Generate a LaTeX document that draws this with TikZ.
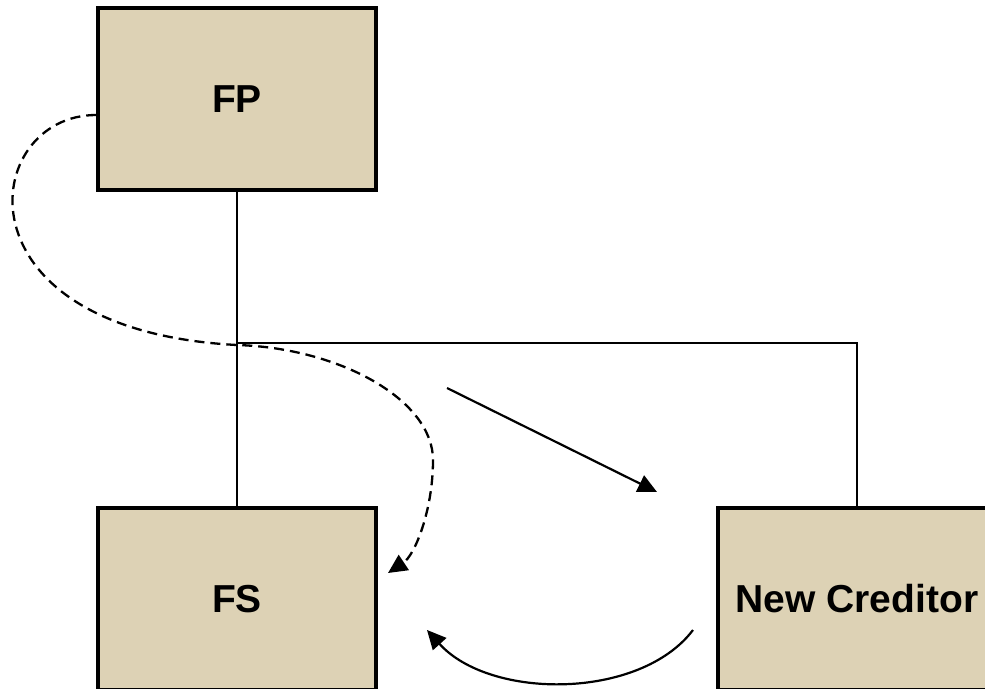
\documentclass[tikz,border=0pt]{standalone}
\usepackage{fontspec}
\setmainfont{Liberation Sans}
\usepackage{xcolor}
\usetikzlibrary{calc, positioning, arrows.meta}

\definecolor{boxtan}{RGB}{221,210,181}

\begin{document}
\begin{tikzpicture}[x=1pt, y=-1pt, >={Triangle[length=19pt,width=18pt]},
		party/.style={draw, line width=3.6pt, fill=boxtan, minimum width=278pt, minimum height=182pt,
			font=\fontsize{39}{39}\selectfont\bfseries, inner sep=0pt},
		link/.style={line width=2.2pt},
		flow/.style={line width=2.3pt, dash pattern=on 10pt off 6pt}]
	\useasboundingbox (0,0) rectangle (985,688);
	\fill[white] (0,0) rectangle (985,688);

	% the three parties
	\node[party] (FP) at (237,99) {FP};
	\node[party] (FS) at (237,599) {FS};
	\node[party] (NC) at (857,599) {New Creditor};

	% ownership lines
	\coordinate (jn) at (237,343);
	\draw[link] (FP.south) -- (FS.north);
	\draw[link] (jn) -| (NC.north);

	% dashed flow from FP down to FS
	\coordinate (fpout) at ([yshift=-16pt]FP.west);
	\coordinate (fsin) at (388,573);
	\draw[flow, ->] (fpout) .. controls (-20,115) and (-50,330) .. (237,345)
		.. controls (340,348) and (433,400) .. (433,460)
		.. controls (433,510) and (415,555) .. (fsin);

	% transfer to the new creditor and back
	\coordinate (ts) at (447,388);
	\coordinate (te) at (657,492);
	\draw[link, ->] (ts) -- (te);
	\coordinate (rs) at (693,630);
	\coordinate (re) at (427,630);
	\draw[link, ->] (rs) .. controls (640,700) and (490,700) .. (re);
\end{tikzpicture}
\end{document}
